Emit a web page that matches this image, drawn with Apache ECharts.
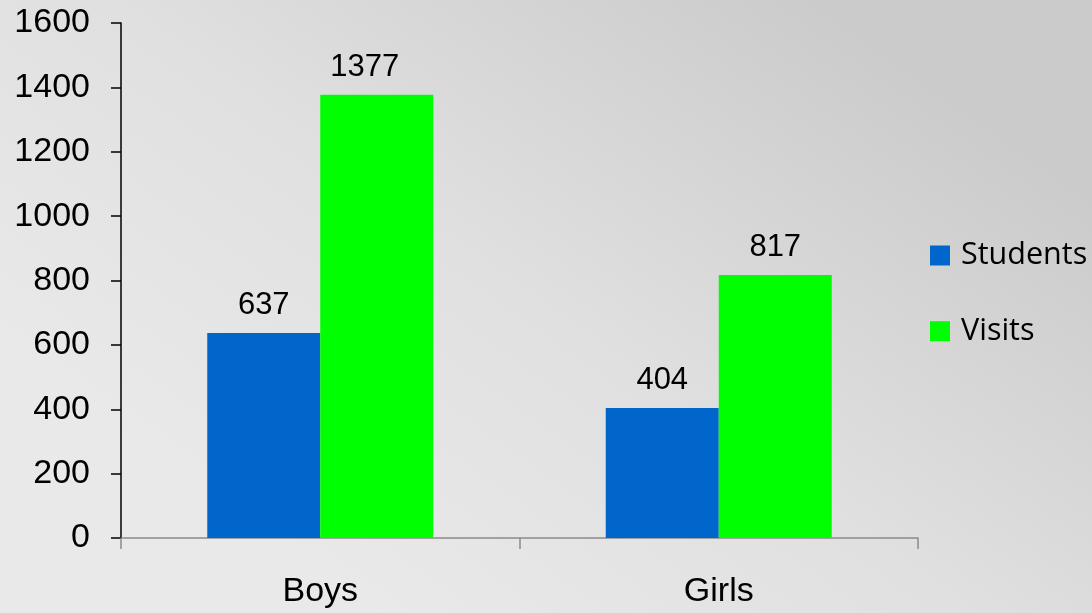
<!DOCTYPE html>
<html>
<head>
<meta charset="utf-8">
<script src="https://cdn.jsdelivr.net/npm/echarts@6/dist/echarts.min.js"></script>
<style>html,body{margin:0;padding:0;}#c{width:1092px;height:613px;}</style>
</head>
<body>
<div id="c"></div>
<script>
const categories = ['Boys', 'Girls'];
const students = [637, 404];
const visits = [1377, 817];
const yTicks = [0, 200, 400, 600, 800, 1000, 1200, 1400, 1600];

const labelStyle = {show: true, position: 'top', distance: 12, fontFamily: 'Liberation Sans', fontSize: 31, color: '#000'};

const chart = echarts.init(document.getElementById('c'));
chart.setOption({
  backgroundColor: {
    type: 'linear', x: 0.75, y: 0, x2: 0.35, y2: 1,
    colorStops: [{offset: 0, color: '#cbcbcb'}, {offset: 0.55, color: '#e0e0e0'}, {offset: 1, color: '#e9e9e9'}]
  },
  animation: false,
  grid: {left: 121, right: 174, top: 23, bottom: 75},
  legend: {
    orient: 'vertical', left: 925, top: 235,
    itemWidth: 20, itemHeight: 20, itemGap: 44.7,
    icon: 'rect',
    textStyle: {fontFamily: 'Open Sans', fontSize: 30.5, color: '#000', lineHeight: 30, padding: [0, 0, 0, 6]},
    data: ['Students', 'Visits']
  },
  xAxis: {
    type: 'category', data: categories,
    axisLine: {lineStyle: {color: '#8a8a8a', width: 1.5}},
    axisTick: {show: true, length: 11, lineStyle: {color: '#8a8a8a', width: 1.5}},
    axisLabel: {fontFamily: 'Liberation Sans', fontSize: 34, color: '#000', margin: 37}
  },
  yAxis: {
    type: 'value', min: yTicks[0], max: yTicks[yTicks.length - 1], interval: 200,
    splitLine: {show: false},
    axisLine: {show: true, lineStyle: {color: '#000', width: 1.5}},
    axisTick: {show: true, length: 10, lineStyle: {color: '#000', width: 1.5}},
    axisLabel: {fontFamily: 'Liberation Sans', fontSize: 34, color: '#000', margin: 31,
      formatter: v => String(v), padding: [7, 0, 0, 0]}
  },
  series: [
    {name: 'Students', type: 'bar', data: students, barWidth: 113, barGap: '0%',
     itemStyle: {color: '#0066cc'}, label: labelStyle},
    {name: 'Visits', type: 'bar',
     data: visits.map((v, i) => i === 0 ? {value: v, label: {offset: [-12, 0]}} : v),
     barWidth: 113, barGap: '0%',
     itemStyle: {color: '#00ff00'}, label: labelStyle}
  ]
});
</script>
</body>
</html>
